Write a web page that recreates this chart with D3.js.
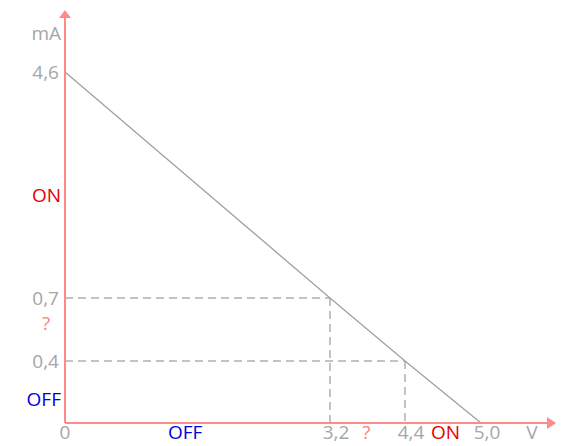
<!DOCTYPE html>
<html>
<head>
<meta charset="utf-8">
<script src="https://cdn.jsdelivr.net/npm/d3@7"></script>
<style>
  html, body { margin: 0; padding: 0; background: #fff; }
  svg { display: block; }
  text { font-family: "Open Sans", sans-serif; font-size: 19px; }
</style>
</head>
<body>
<svg id="chart" width="567" height="446"></svg>
<script>
// characteristic line (schematic, V -> mA)
const lineV = [0, 3.2, 4.4, 5.0];
const lineI = [4.6, 0.7, 0.4, 0];

// tick labels
const xTicks = [0, 3.2, 4.4, 5.0];
const xTickLabels = ["0", "3,2", "4,4", "5,0"];
const yTicks = [4.6, 0.7, 0.4];
const yTickLabels = ["4,6", "0,7", "0,4"];

// dashed guide points
const guideV = [3.2, 4.4];
const guideI = [0.7, 0.4];

// region labels along each axis
const xRegionLabels = ["OFF", "?", "ON"];
const xRegionPos = [1.45, 3.78, 4.72];
const yRegionLabels = ["ON", "?", "OFF"];
const yRegionPos = [2.48, 0.58, 0.15];
const regionColors = { "ON": "#e60000", "OFF": "#0000e6", "?": "#ff8080" };

const axisColor = "#ff8a8a";
const textGray = "#a6a6a6";

const svg = d3.select("#chart");

// the picture is not to scale, so the scales are piecewise
const x = d3.scaleLinear()
    .domain([0, 3.2, 4.4, 5.0, 5.9])
    .range([65, 330, 405, 481, 556]);
const y = d3.scaleLinear()
    .domain([0, 0.4, 0.7, 4.6, 5.4])
    .range([423, 361, 298, 72, 10]);

const xMax = 5.9, yMax = 5.4;
const labelBase = 439;

// dashed guides
const guides = svg.append("g")
    .attr("stroke", "#b0b0b0")
    .attr("stroke-width", 1.5)
    .attr("stroke-dasharray", "8,5")
    .attr("fill", "none");
guideV.forEach((v, i) => {
    guides.append("line")
        .attr("x1", x(0)).attr("y1", y(guideI[i]))
        .attr("x2", x(v)).attr("y2", y(guideI[i]));
    guides.append("line")
        .attr("x1", x(v)).attr("y1", y(guideI[i]))
        .attr("x2", x(v)).attr("y2", y(0));
});

// characteristic line
svg.append("path")
    .datum(lineV.map((v, i) => [v, lineI[i]]))
    .attr("fill", "none")
    .attr("stroke", "#a0a0a0")
    .attr("stroke-width", 1.3)
    .attr("d", d3.line().x(d => x(d[0])).y(d => y(d[1])));

// axes with arrows
svg.append("line")
    .attr("x1", x(0)).attr("y1", y(0))
    .attr("x2", x(xMax) - 6).attr("y2", y(0))
    .attr("stroke", axisColor).attr("stroke-width", 2);
svg.append("line")
    .attr("x1", x(0)).attr("y1", y(0))
    .attr("x2", x(0)).attr("y2", y(yMax) + 6)
    .attr("stroke", axisColor).attr("stroke-width", 2);

svg.append("path")
    .attr("fill", axisColor)
    .attr("d", `M${x(xMax)},${y(0)} L${x(xMax) - 9},${y(0) - 6} L${x(xMax) - 9},${y(0) + 6} Z`);
svg.append("path")
    .attr("fill", axisColor)
    .attr("d", `M${x(0)},${y(yMax)} L${x(0) - 6},${y(yMax) + 8} L${x(0) + 6},${y(yMax) + 8} Z`);

// x tick labels
svg.append("g").selectAll("text")
    .data(xTicks)
    .join("text")
    .attr("x", d => x(d) + (d === 0 ? 0 : 6))
    .attr("y", labelBase)
    .attr("text-anchor", "middle")
    .attr("fill", textGray)
    .text((d, i) => xTickLabels[i]);

svg.append("text")
    .attr("x", 532).attr("y", labelBase)
    .attr("text-anchor", "middle")
    .attr("fill", textGray)
    .text("V");

// y tick labels
svg.append("g").selectAll("text")
    .data(yTicks)
    .join("text")
    .attr("x", 59)
    .attr("y", d => y(d))
    .attr("dy", "0.35em")
    .attr("text-anchor", "end")
    .attr("fill", textGray)
    .text((d, i) => yTickLabels[i]);

svg.append("text")
    .attr("x", 61).attr("y", 33)
    .attr("dy", "0.35em")
    .attr("text-anchor", "end")
    .attr("fill", textGray)
    .text("mA");

// region labels
svg.append("g").selectAll("text")
    .data(xRegionLabels)
    .join("text")
    .attr("x", (d, i) => x(xRegionPos[i]))
    .attr("y", labelBase)
    .attr("text-anchor", "middle")
    .attr("fill", d => regionColors[d])
    .text(d => d);

svg.append("g").selectAll("text")
    .data(yRegionLabels)
    .join("text")
    .attr("x", (d, i) => d === "?" ? 46 : 61)
    .attr("y", (d, i) => y(yRegionPos[i]))
    .attr("dy", "0.35em")
    .attr("text-anchor", d => d === "?" ? "middle" : "end")
    .attr("fill", d => regionColors[d])
    .text(d => d);
</script>
</body>
</html>
